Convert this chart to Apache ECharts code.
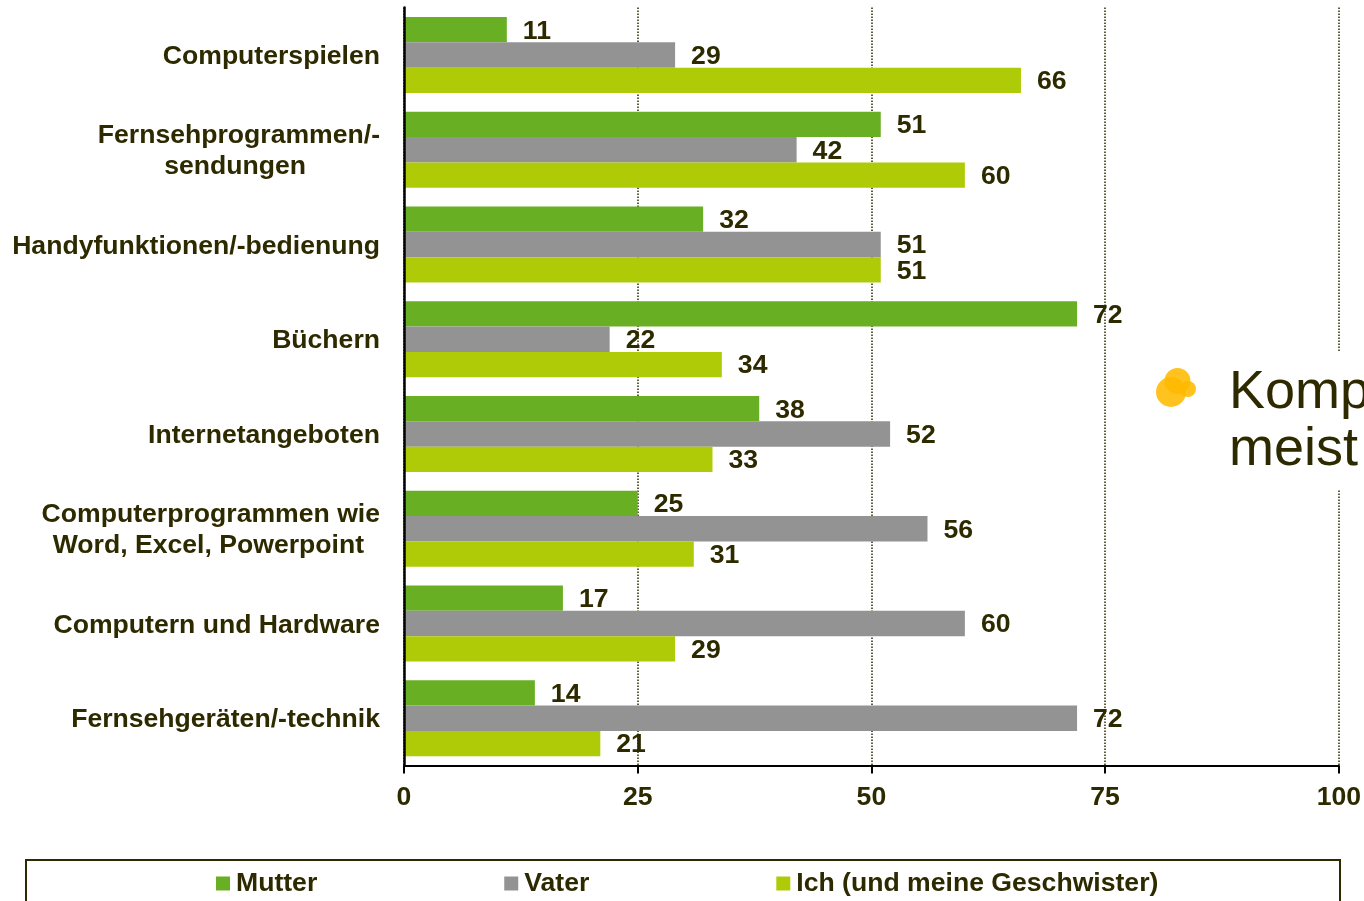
<!DOCTYPE html>
<html><head><meta charset="utf-8">
<style>html,body{margin:0;padding:0;background:#fff;overflow:hidden}#c{width:1364px;height:901px}</style>
<script src="https://cdn.jsdelivr.net/npm/echarts@6/dist/echarts.min.js"></script>
</head><body><div id="c"></div>
<script>
const categories = ['Computerspielen','Fernsehprogrammen/-\n{b|sendungen}','Handyfunktionen/-bedienung','Büchern','Internetangeboten','Computerprogrammen wie\n{c|Word, Excel, Powerpoint}','Computern und Hardware','Fernsehgeräten/-technik'];
const mutter = [11,51,32,72,38,25,17,14];
const vater = [29,42,51,22,52,56,60,72];
const ich = [66,60,51,34,33,31,29,21];
const ticks = [0,25,50,75,100];
const ink = '#2e2a00';
const font = {fontFamily:'"Liberation Sans",Arial,sans-serif',fontWeight:'bold',fontSize:26.6,color:ink};
const chart = echarts.init(document.getElementById('c'),null,{renderer:'canvas'});
const mk = (name,data,color)=>({name,type:'bar',data,barWidth:25.3,barGap:'0%',itemStyle:{color},
  label:{show:true,position:'right',distance:16,offset:[0,1.5],...font},emphasis:{disabled:true},animation:false});
chart.setOption({
  animation:false,
  grid:{left:404,right:25,top:7.6,bottom:135.4,containLabel:false},
  legend:{left:216,top:870,itemWidth:14,itemHeight:14,itemGap:187,padding:0,icon:'rect',
    textStyle:{...font,padding:[4,0,0,1]},data:['Mutter','Vater','Ich (und meine Geschwister)'],selectedMode:false},
  xAxis:{type:'value',min:ticks[0],max:ticks[ticks.length-1],interval:25,
    axisLine:{show:true,lineStyle:{color:'#000',width:2}},
    axisTick:{show:true,length:8,lineStyle:{color:'#000',width:2}},
    axisLabel:{...font,margin:19,hideOverlap:false},
    splitLine:{show:true,lineStyle:{color:ink,type:'dotted',width:1.5}}},
  yAxis:{type:'category',inverse:true,data:categories,z:5,
    axisLine:{show:true,lineStyle:{color:'#000',width:2.5}},axisTick:{show:false},
    axisLabel:{...font,margin:24,align:'right',lineHeight:31,interval:0,padding:[3.5,0,0,0],
      rich:{b:{...font,lineHeight:31,padding:[0,74,0,0]},c:{...font,lineHeight:31,padding:[0,16,0,0]}}}},
  series:[mk('Mutter',mutter,'#69af23'),mk('Vater',vater,'#939393'),mk('Ich (und meine Geschwister)',ich,'#afcb08')],
  graphic:[
    {type:'rect',z:10,shape:{x:1110,y:351,width:254,height:139},style:{fill:'#fff'}},
    {type:'circle',z:11,shape:{cx:1171,cy:392,r:15},style:{fill:'rgba(255,185,0,0.88)'}},
    {type:'circle',z:11,shape:{cx:1177.5,cy:381,r:13},style:{fill:'rgba(255,185,0,0.88)'}},
    {type:'circle',z:11,shape:{cx:1188,cy:389,r:8},style:{fill:'rgba(255,185,0,0.88)'}},
    {type:'text',z:12,style:{x:1229,y:364.5,text:'Komp\nmeist',fill:ink,font:'54px "Liberation Sans",Arial,sans-serif',lineHeight:57}},
    {type:'rect',z:5,shape:{x:26,y:860,width:1314,height:60},style:{fill:'none',stroke:ink,lineWidth:2}}
  ]
});
</script></body></html>
